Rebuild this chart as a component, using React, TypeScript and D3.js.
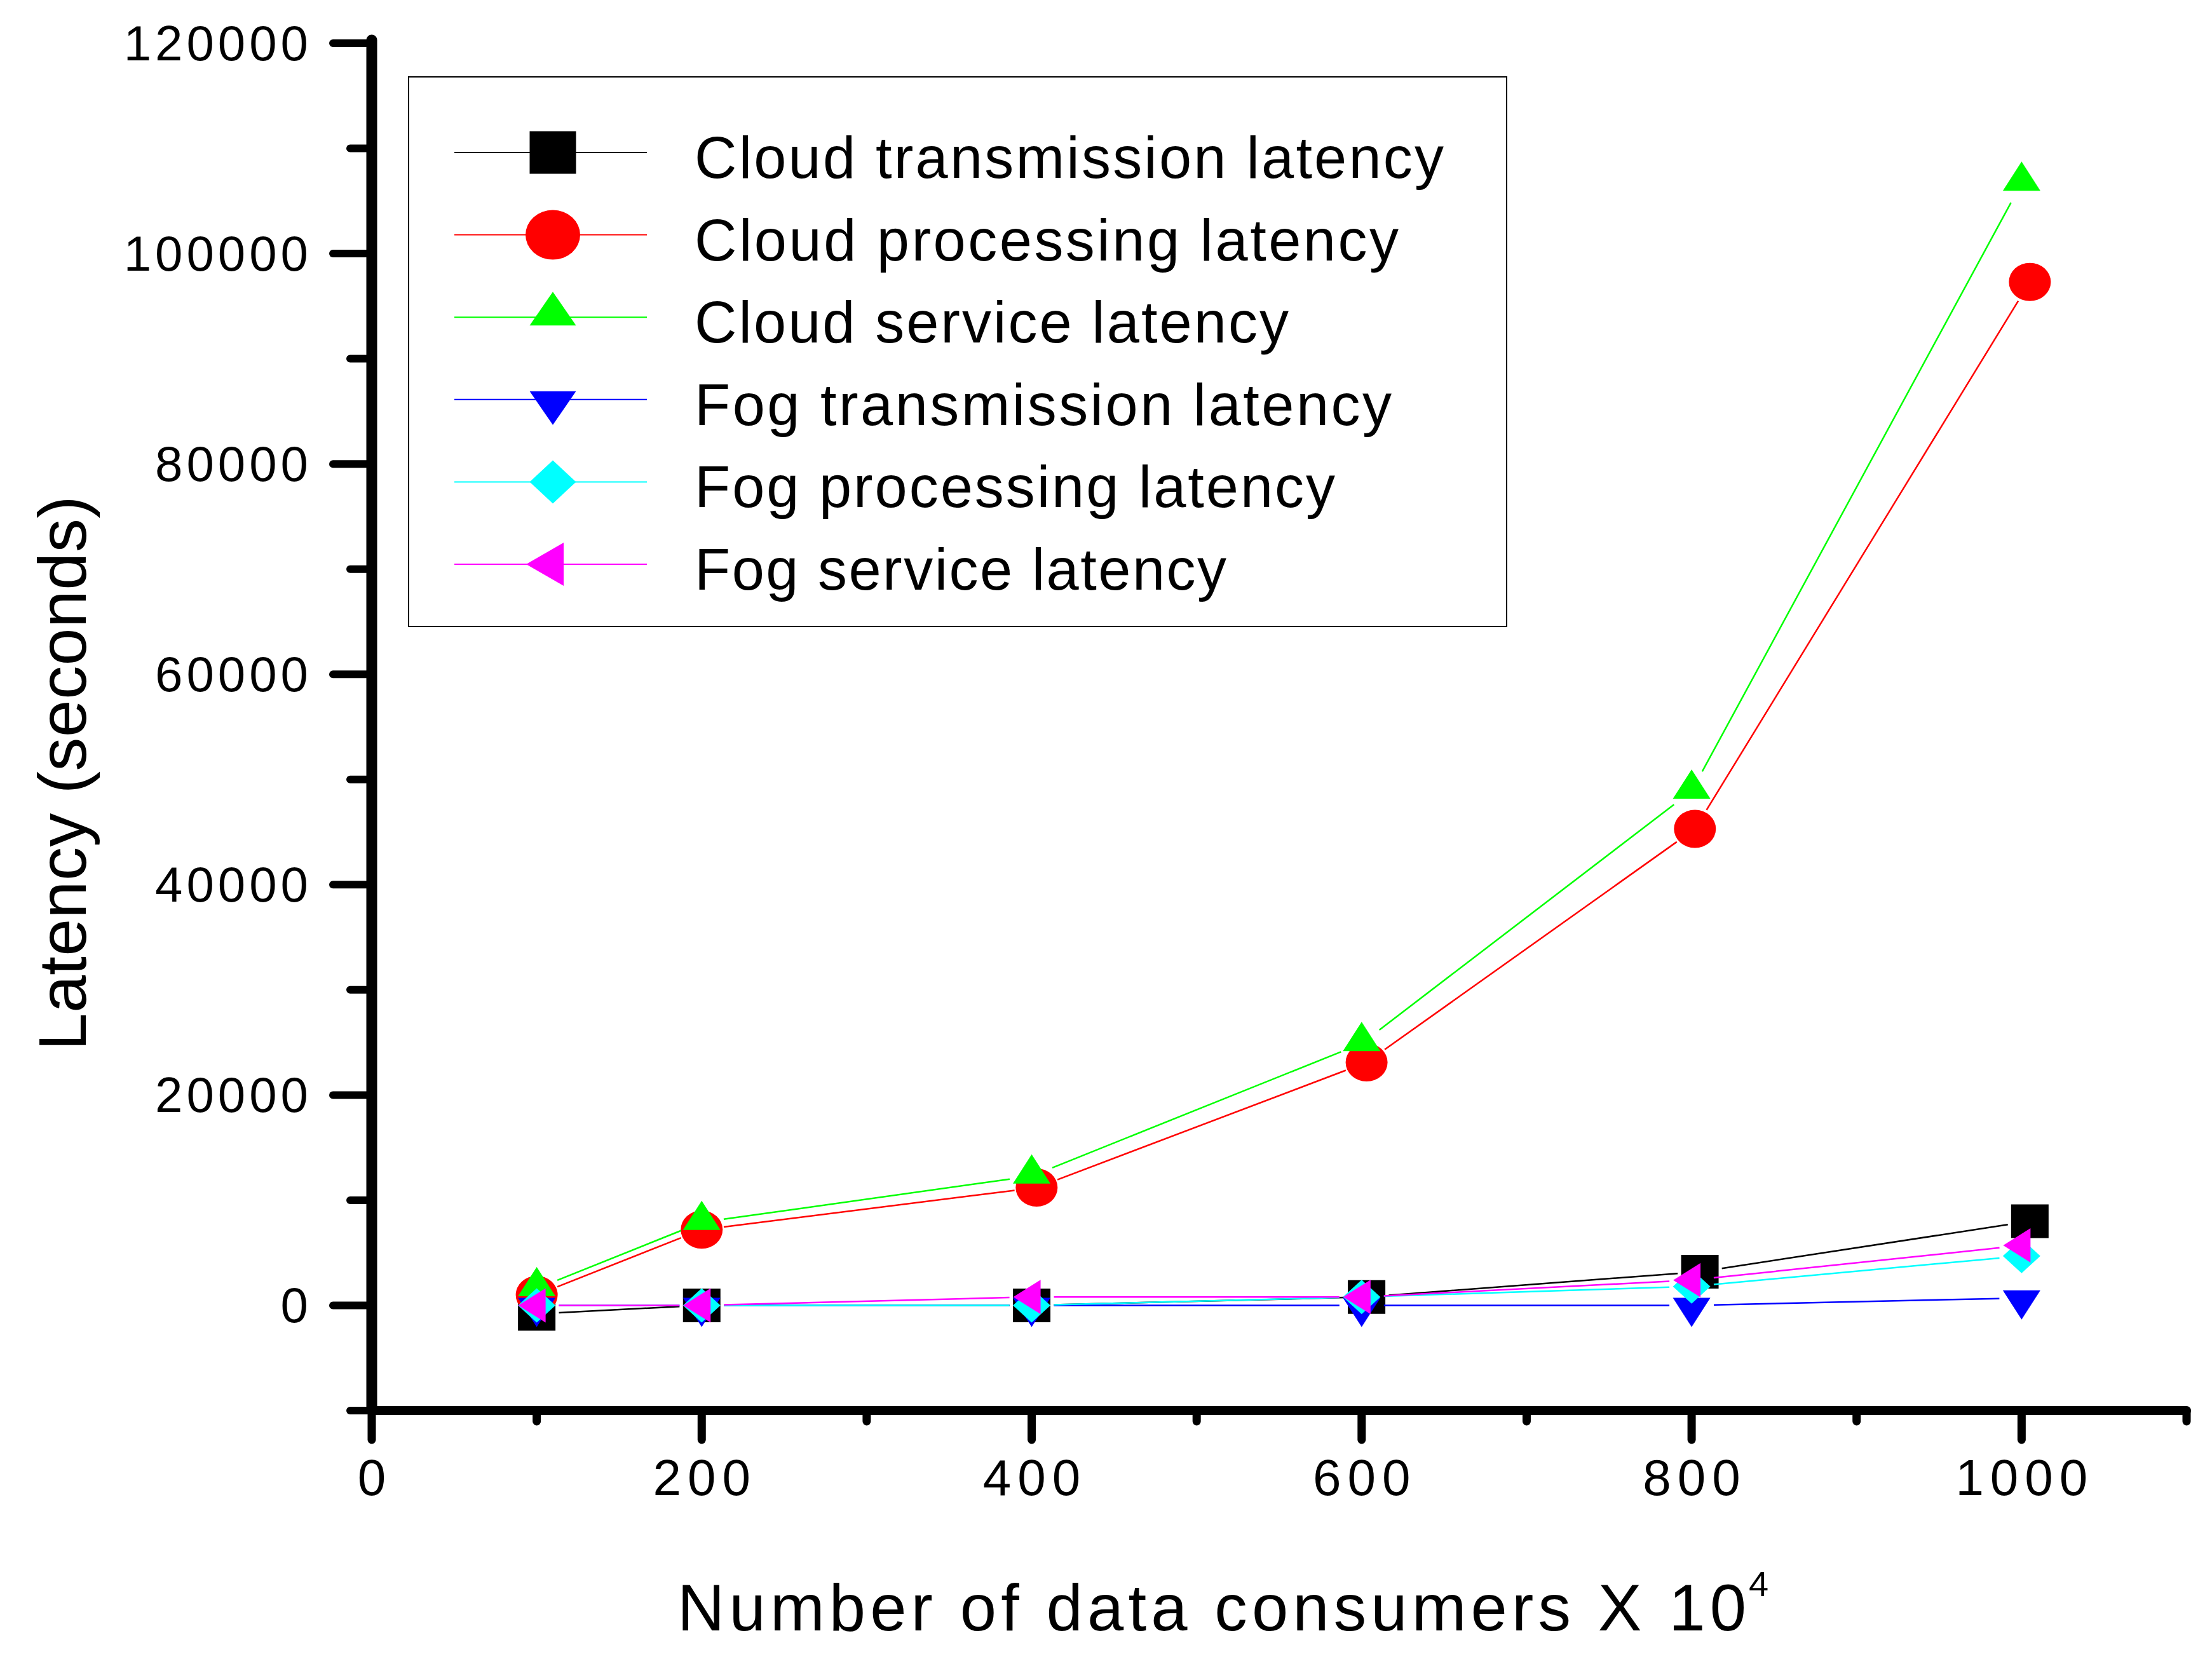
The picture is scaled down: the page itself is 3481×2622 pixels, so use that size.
import React from 'react';
import * as d3 from 'd3';

// ---------- data ----------
const xCloudTrans = [100, 200, 400, 603, 805, 1005];
const xCloudProc = [100, 200, 403, 603, 802, 1005];
const xFog = [100, 200, 400, 600, 800, 1000];
const xCloudServ = [100, 200, 400, 600, 800, 1000];

const cloudTransmission = [-800, 0, 0, 800, 3200, 8000];
const cloudProcessing = [1000, 7200, 11200, 23100, 45300, 97300];
const cloudService = [1600, 7900, 12300, 24900, 48900, 106700];
const fogTransmission = [0, 0, 0, 0, 0, 700];
const fogProcessing = [0, 0, 0, 800, 1800, 4700];
const fogService = [0, 0, 800, 800, 2400, 5700];

const seriesNames = [
  'Cloud transmission latency',
  'Cloud processing latency',
  'Cloud service latency',
  'Fog transmission latency',
  'Fog processing latency',
  'Fog service latency',
];
const seriesColors = ['#000000', '#ff0000', '#00ff00', '#0000ff', '#00ffff', '#ff00ff'];
const seriesShapes = ['square', 'circle', 'up', 'down', 'diamond', 'left'];
const seriesX = [xCloudTrans, xCloudProc, xCloudServ, xFog, xFog, xFog];
const seriesY = [cloudTransmission, cloudProcessing, cloudService, fogTransmission, fogProcessing, fogService];
const legendTextLengths = [1179, 1108, 935, 1097, 1008, 837];

const yMajorTicks = [0, 20000, 40000, 60000, 80000, 100000, 120000];
const yMinorTicks = [-10000, 10000, 30000, 50000, 70000, 90000, 110000];
const xMajorTicks = [0, 200, 400, 600, 800, 1000];
const xMinorTicks = [100, 300, 500, 700, 900, 1100];

const xTitle = 'Number of data consumers X 10';
const xTitleSup = '4';
const yTitle = 'Latency (seconds)';

// ---------- layout ----------
const W = 3481;
const H = 2622;
const FONT = "'Liberation Sans', Arial, sans-serif";

type Size = { sq: [number, number]; circ: [number, number]; triHW: number; triA: number; triB: number; diaHW: number; diaHH: number; lA: number; lB: number; lHH: number };
const dataSize: Size = { sq: [59, 53], circ: [33, 30], triHW: 29.5, triA: 34, triB: 12, diaHW: 29.5, diaHH: 27, lA: 29, lB: 14, lHH: 27 };
const legSize: Size = { sq: [73, 67], circ: [43, 39], triHW: 36.5, triA: 40, triB: 13, diaHW: 36.5, diaHH: 34, lA: 42, lB: 17, lHH: 34 };

function markerPath(shape: string, s: Size): string {
  switch (shape) {
    case 'square': {
      const [w, h] = s.sq;
      return `M${-w / 2},${-h / 2}h${w}v${h}h${-w}Z`;
    }
    case 'circle': {
      const [rx, ry] = s.circ;
      return `M${-rx},0a${rx},${ry} 0 1,0 ${2 * rx},0a${rx},${ry} 0 1,0 ${-2 * rx},0Z`;
    }
    case 'up':
      return `M0,${-s.triA}L${s.triHW},${s.triB}L${-s.triHW},${s.triB}Z`;
    case 'down':
      return `M0,${s.triA}L${s.triHW},${-s.triB}L${-s.triHW},${-s.triB}Z`;
    case 'diamond':
      return `M0,${-s.diaHH}L${s.diaHW},0L0,${s.diaHH}L${-s.diaHW},0Z`;
    case 'left':
      return `M${-s.lA},0L${s.lB},${-s.lHH}L${s.lB},${s.lHH}Z`;
  }
  return '';
}

export default function App() {
  const x = d3.scaleLinear().domain([0, 1100]).range([585, 3441]);
  const y = d3.scaleLinear().domain([-10000, 120000]).range([2220, 68]);
  const yAxisX = x(0);
  const xAxisY = y(-10000);
  const gap = 35;

  const segs = (xs: number[], ys: number[]) => {
    const out: [number, number, number, number][] = [];
    for (let i = 0; i < xs.length - 1; i++) {
      const x0 = x(xs[i]), y0 = y(ys[i]), x1 = x(xs[i + 1]), y1 = y(ys[i + 1]);
      const dx = x1 - x0, dy = y1 - y0;
      const L = Math.hypot(dx, dy);
      if (L <= 2 * gap) continue;
      const ux = dx / L, uy = dy / L;
      out.push([x0 + ux * gap, y0 + uy * gap, x1 - ux * gap, y1 - uy * gap]);
    }
    return out;
  };

  const legLeft = 643, legTop = 121, legRight = 2371, legBottom = 986;
  const rowY = (i: number) => 240 + i * 129.6;

  return (
    <>
      <style>{`body{margin:0;background:#fff}`}</style>
      <svg width={W} height={H} viewBox={`0 0 ${W} ${H}`} style={{ display: 'block', background: '#fff' }}>
        <rect x={0} y={0} width={W} height={H} fill="#fff" />

        {/* series */}
        {seriesNames.map((name, si) => (
          <g key={name}>
            {segs(seriesX[si], seriesY[si]).map((s, i) => (
              <line key={i} x1={s[0]} y1={s[1]} x2={s[2]} y2={s[3]} stroke={seriesColors[si]} strokeWidth={2.5} />
            ))}
            {seriesX[si].map((xv, i) => (
              <path
                key={i}
                d={markerPath(seriesShapes[si], dataSize)}
                transform={`translate(${x(xv)},${y(seriesY[si][i])})`}
                fill={seriesColors[si]}
              />
            ))}
          </g>
        ))}

        {/* axes */}
        <g stroke="#000" strokeLinecap="round">
          <line x1={yAxisX} y1={y(120000) - 5} x2={yAxisX} y2={xAxisY} strokeWidth={17} />
          <line x1={yAxisX} y1={xAxisY} x2={x(1100)} y2={xAxisY} strokeWidth={14} />
          {yMajorTicks.map((t) => (
            <line key={'ym' + t} x1={yAxisX - 61} y1={y(t)} x2={yAxisX} y2={y(t)} strokeWidth={12} />
          ))}
          {yMinorTicks.map((t) => (
            <line key={'yn' + t} x1={yAxisX - 34} y1={y(t)} x2={yAxisX} y2={y(t)} strokeWidth={12} />
          ))}
          {xMajorTicks.map((t) => (
            <line key={'xm' + t} x1={x(t)} y1={xAxisY} x2={x(t)} y2={xAxisY + 46} strokeWidth={13} />
          ))}
          {xMinorTicks.map((t) => (
            <line key={'xn' + t} x1={x(t)} y1={xAxisY} x2={x(t)} y2={xAxisY + 17} strokeWidth={13} />
          ))}
        </g>

        {/* tick labels */}
        <g fontFamily={FONT} fill="#000">
          {yMajorTicks.map((t) => (
            <text key={'yl' + t} x={491} y={y(t) + 27} fontSize={78} textAnchor="end" letterSpacing={6}>
              {String(t)}
            </text>
          ))}
          {xMajorTicks.map((t) => (
            <text key={'xl' + t} x={x(t) + 5} y={2353} fontSize={80} textAnchor="middle" letterSpacing={10}>
              {String(t)}
            </text>
          ))}
        </g>

        {/* axis titles */}
        <text x={1066} y={2566} fontFamily={FONT} fontSize={103} textLength={1682} lengthAdjust="spacing" fill="#000">
          {xTitle}
        </text>
        <text x={2752} y={2512} fontFamily={FONT} fontSize={56} fill="#000">
          {xTitleSup}
        </text>
        <text
          transform={`translate(135,1217) rotate(-90)`}
          fontFamily={FONT}
          fontSize={106}
          textAnchor="middle"
          textLength={873}
          lengthAdjust="spacing"
          fill="#000"
        >
          {yTitle}
        </text>

        {/* legend */}
        <rect x={legLeft} y={legTop} width={legRight - legLeft} height={legBottom - legTop} fill="#fff" stroke="#000" strokeWidth={2} />
        {seriesNames.map((name, i) => (
          <g key={'lg' + i}>
            <line x1={715} y1={rowY(i)} x2={1018} y2={rowY(i)} stroke={seriesColors[i]} strokeWidth={2} />
            <path d={markerPath(seriesShapes[i], legSize)} transform={`translate(870,${rowY(i)})`} fill={seriesColors[i]} />
            <text x={1093} y={rowY(i) + 40} fontFamily={FONT} fontSize={92} textLength={legendTextLengths[i]} lengthAdjust="spacing" fill="#000">
              {name}
            </text>
          </g>
        ))}
      </svg>
    </>
  );
}
